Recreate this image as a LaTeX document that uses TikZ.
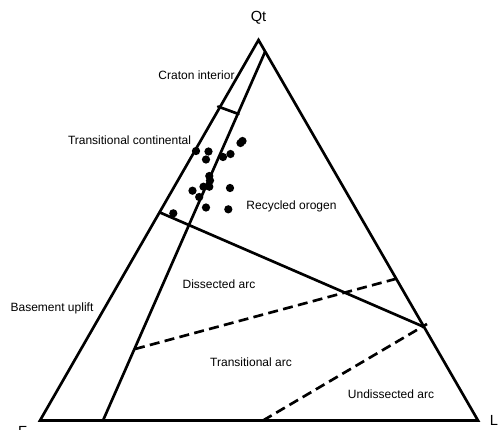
\documentclass[tikz,border=0pt]{standalone}
\usepackage{fontspec}
\setmainfont{Liberation Sans}
\begin{document}
\begin{tikzpicture}[x=0.75pt,y=-0.75pt,
  edge/.style={line width=2pt,line cap=round,line join=miter},
  dashedge/.style={line width=2pt,dash pattern=on 7.5pt off 4pt},
  lbl/.style={font=\fontsize{9}{10}\selectfont,inner sep=0pt},
  corner/.style={font=\fontsize{11}{12}\selectfont,inner sep=0pt},
  dot/.style={fill=black}]
\useasboundingbox (0,0) rectangle (499,429);
% vertices
\coordinate (Q) at (258.5,40);
\coordinate (F) at (40,420.5);
\coordinate (L) at (478,420.5);
% triangle
\draw[edge] (Q) -- (F) -- (L) -- cycle;
% inner field lines
\coordinate (i1) at (265,52);
\coordinate (i2) at (103,420.5);
\draw[edge] (i1) -- (i2);
\coordinate (t1) at (218,106.5);
\coordinate (t2) at (238.5,114);
\draw[edge] (t1) -- (t2);
\coordinate (s1) at (160,212.5);
\coordinate (s2) at (423,326.5);
\draw[edge] (s1) -- (s2);
\coordinate (d1a) at (135,349);
\coordinate (d1b) at (399,278);
\draw[dashedge] (d1a) -- (d1b);
\coordinate (d2a) at (263,420.5);
\coordinate (d2b) at (427,324);
\draw[dashedge] (d2a) -- (d2b);
% data points
\foreach \x/\y in {240.5/143,242.5/141,196/151,208.5/151.5,206/159.5,223/157,230.5/154,
  209.3/176,210/180.5,203.5/186.7,209.3/186.7,192.5/190.7,199.2/197,230/188,
  206/207.5,228.3/209.3,173.3/213.3}
  \fill[dot] (\x,\y) circle (3.1pt);
% labels
\node[corner] (lQ) at (258.5,18) {Qt};
\node[corner] (lF) at (22.5,431) {F};
\node[corner] (lL) at (494,420) {L};
\node[lbl] (craton) at (196.5,75) {Craton interior};
\node[lbl] (transcont) at (129.5,140) {Transitional continental};
\node[lbl] (recycled) at (291.5,206) {Recycled orogen};
\node[lbl] (dissected) at (219,284) {Dissected arc};
\node[lbl] (basement) at (52,308.5) {Basement uplift};
\node[lbl] (transarc) at (251,362) {Transitional arc};
\node[lbl] (undissected) at (391,394.5) {Undissected arc};
\end{tikzpicture}
\end{document}
